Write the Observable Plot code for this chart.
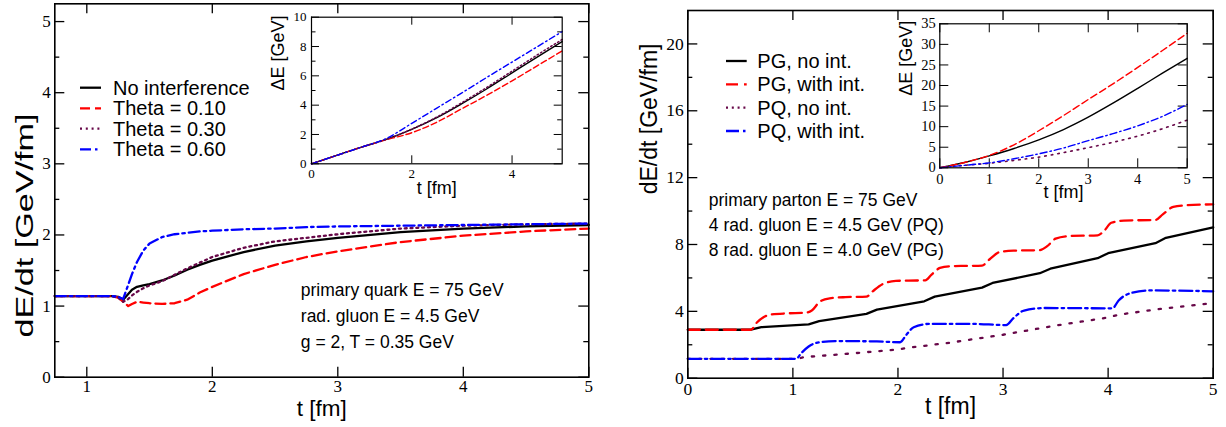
<!DOCTYPE html>
<html><head><meta charset="utf-8">
<script src="https://cdn.jsdelivr.net/npm/d3@7"></script>
<script src="https://cdn.jsdelivr.net/npm/@observablehq/plot@0.6"></script>
<style>
body{margin:0;background:#fff;}
#wrap{position:relative;width:1226px;height:427px;overflow:hidden;background:#fff;}
#wrap > svg, #wrap > figure{position:absolute;margin:0;}
</style></head><body><div id="wrap"></div>
<script>
// ---------------- DATA ----------------
// Left main panel: dE/dt vs t (primary quark)
const leftT        = [0.745,1.0,1.2,1.25,1.29,1.33,1.36,1.4,1.45,1.5,1.6,1.7,1.8,1.9,2.0,2.25,2.5,2.75,3.0,3.5,4.0,4.5,5.0];
const leftNoInt    = [1.14,1.14,1.14,1.13,1.09,1.17,1.23,1.27,1.29,1.31,1.36,1.43,1.51,1.58,1.64,1.76,1.85,1.91,1.96,2.04,2.09,2.12,2.14];
const leftTheta010 = [1.14,1.14,1.14,1.12,1.06,1.00,1.03,1.06,1.05,1.04,1.03,1.04,1.09,1.19,1.27,1.45,1.58,1.69,1.77,1.90,1.99,2.05,2.09];
const leftTheta030 = [1.14,1.14,1.14,1.12,1.06,1.10,1.15,1.20,1.25,1.29,1.35,1.44,1.53,1.61,1.69,1.82,1.91,1.96,2.01,2.09,2.13,2.15,2.16];
const leftTheta060 = [1.14,1.14,1.14,1.13,1.10,1.30,1.45,1.62,1.78,1.88,1.97,2.01,2.03,2.05,2.06,2.08,2.09,2.11,2.12,2.13,2.14,2.15,2.16];
const leftLabels   = ["No interference","Theta = 0.10","Theta = 0.30","Theta = 0.60"];

// Left inset: Delta E vs t
const insetT        = [0,0.5,1,1.5,2,2.5,3,3.5,4,4.5,5];
const linsNoInt     = [0,0.57,1.14,1.68,2.35,3.15,4.10,5.12,6.20,7.28,8.34];
const linsTheta010  = [0,0.57,1.14,1.65,2.12,2.84,3.76,4.68,5.66,6.68,7.70];
const linsTheta030  = [0,0.57,1.14,1.67,2.37,3.19,4.17,5.22,6.32,7.42,8.48];
const linsTheta060  = [0,0.57,1.14,1.74,2.76,3.80,4.84,5.90,6.94,7.98,9.02];

// Right main panel: dE/dt vs t (primary parton)
const pgNoT   = [0,0.6,0.7,1.15,1.25,1.7,1.8,2.25,2.35,2.8,2.9,3.35,3.45,3.9,4.0,4.45,4.55,5.0];
const pgNoV   = [2.9,2.9,3.05,3.22,3.42,3.85,4.1,4.6,4.88,5.42,5.7,6.28,6.55,7.18,7.48,8.08,8.4,9.03];
const pgIntT  = [0,0.6,0.66,0.72,0.8,0.95,1.12,1.18,1.26,1.35,1.5,1.7,1.76,1.86,1.98,2.1,2.26,2.32,2.4,2.5,2.65,2.8,2.87,2.97,3.1,3.35,3.42,3.5,3.62,3.9,3.96,4.03,4.15,4.45,4.52,4.62,4.75,5.0];
const pgIntV  = [2.9,2.9,3.35,3.65,3.82,3.88,3.92,4.05,4.6,4.78,4.85,4.88,5.2,5.65,5.82,5.84,5.85,6.2,6.6,6.7,6.72,6.74,7.1,7.55,7.63,7.66,7.9,8.35,8.5,8.55,8.8,9.3,9.43,9.47,9.8,10.25,10.35,10.4];
const pqNoT   = [0,1.05,1.1,1.5,2.0,2.1,2.5,3.0,3.5,4.0,4.1,4.5,5.0];
const pqNoV   = [1.16,1.16,1.26,1.45,1.72,1.82,2.13,2.6,3.15,3.63,3.8,4.15,4.5];
const pqIntT  = [0,1.03,1.08,1.15,1.25,1.4,1.8,2.02,2.08,2.15,2.3,2.7,3.03,3.1,3.2,3.4,4.04,4.1,4.22,4.4,5.0];
const pqIntV  = [1.16,1.16,1.5,1.9,2.15,2.22,2.2,2.15,2.6,3.05,3.25,3.25,3.18,3.6,4.05,4.2,4.18,4.65,5.1,5.25,5.2];
const rightLabels = ["PG, no int.","PG, with int.","PQ, no int.","PQ, with int."];

// Right inset: Delta E vs t
const rinsPgNo  = [0,1.3,2.9,4.7,6.8,9.3,12.3,15.7,19.3,23.0,26.6];
const rinsPgInt = [0,1.3,3.0,5.6,9.0,12.7,16.6,20.4,24.4,28.5,32.7];
const rinsPqNo  = [0,0.6,1.1,1.8,2.6,3.7,4.9,6.2,7.7,9.5,11.6];
const rinsPqInt = [0,0.6,1.2,2.2,3.4,4.8,6.6,8.3,10.2,12.5,15.4];

// Ticks
const lxMajor = [1,2,3,4,5];
const lyMajor = [0,1,2,3,4,5];
const lyMinor = [0.5,1.5,2.5,3.5,4.5];
const lixMajor = [0,2,4];
const liyMajor = [0,2,4,6,8,10];
const liyMinor = [1,3,5,7,9];
const rxMajor = [0,1,2,3,4,5];
const ryMajor = [0,4,8,12,16,20];
const ryMinor = [2,6,10,14,18];
const riyMajor = [0,5,10,15,20,25,30,35];

const leftNote  = "primary quark E = 75 GeV\nrad. gluon E = 4.5 GeV\ng = 2, T = 0.35 GeV";
const rightNote = "primary parton E = 75 GeV\n4 rad. gluon E = 4.5 GeV (PQ)\n8 rad. gluon E = 4.0 GeV (PG)";

// ---------------- STYLES ----------------
const SANS = "'Liberation Sans', Arial, Helvetica, sans-serif";
const SERIF = "'Liberation Serif', 'Times New Roman', serif";
const MAROON = "#670748";
const fmt = d => String(d);
const leftStyles = [
  {stroke:"black", strokeWidth:2.3},
  {stroke:"#ff0000", strokeWidth:2.3, strokeDasharray:"10,5"},
  {stroke:MAROON, strokeWidth:2.3, strokeDasharray:"2,3.8"},
  {stroke:"#0000ff", strokeWidth:2.3, strokeDasharray:"11,4,2.5,4"}
];
const rightStyles = [
  {stroke:"black", strokeWidth:2.3},
  {stroke:"#ff0000", strokeWidth:2.3, strokeDasharray:"12,6"},
  {stroke:MAROON, strokeWidth:2.3, strokeDasharray:"2.3,9"},
  {stroke:"#0000ff", strokeWidth:2.3, strokeDasharray:"13,4,2.5,4"}
];
const lInsetStyles = [
  {stroke:"black", strokeWidth:1.4},
  {stroke:"#ff0000", strokeWidth:1.4, strokeDasharray:"6,3"},
  {stroke:MAROON, strokeWidth:1.5, strokeDasharray:"1.5,2.5"},
  {stroke:"#0000ff", strokeWidth:1.4, strokeDasharray:"6,3,1.5,3"}
];
const rInsetStyles = [
  {stroke:"black", strokeWidth:1.4},
  {stroke:"#ff0000", strokeWidth:1.4, strokeDasharray:"7,3.5"},
  {stroke:MAROON, strokeWidth:1.6, strokeDasharray:"1.6,5"},
  {stroke:"#0000ff", strokeWidth:1.4, strokeDasharray:"7,3,1.5,3"}
];

const rows = (ts, vs) => ts.map((t, i) => ({t, v: vs[i]}));
function seriesLine(ts, vs, style, curve="linear") {
  return Plot.line(rows(ts, vs), {x:"t", y:"v", curve, strokeLinejoin:"round", ...style});
}
function ticksMarks({xMajor=[], xMinor=[], yMajor=[], yMinor=[], fw, fh, maj, min, sw}) {
  const st = {stroke:"black", strokeWidth:sw};
  const out = [];
  for (const [vals, len] of [[xMajor, maj], [xMinor, min]]) if (vals.length) {
    out.push(Plot.ruleX(vals, {x:d=>d, insetTop: fh - len, ...st}));
    out.push(Plot.ruleX(vals, {x:d=>d, insetBottom: fh - len, ...st}));
  }
  for (const [vals, len] of [[yMajor, maj], [yMinor, min]]) if (vals.length) {
    out.push(Plot.ruleY(vals, {y:d=>d, insetRight: fw - len, ...st}));
    out.push(Plot.ruleY(vals, {y:d=>d, insetLeft: fw - len, ...st}));
  }
  return out;
}
function axes(xt, yt, size, padX, padY) {
  return [
    Plot.axisX(xt, {tickSize: 0, tickPadding: padX, tickFormat: fmt, fontSize: size, fontFamily: SERIF, fill: "black", label: null}),
    Plot.axisY(yt, {tickSize: 0, tickPadding: padY, tickFormat: fmt, fontSize: size, fontFamily: SERIF, fill: "black", label: null})
  ];
}

const wrap = document.getElementById("wrap");
function place(el, left, top) { el.style.left = left + "px"; el.style.top = top + "px"; wrap.appendChild(el); return el; }

// ---------------- LEFT MAIN ----------------
{
  const W = 600, H = 427, ml = 54.3, mr = 11.7, mt = 3.3, mb = 50.3;
  const fw = W - ml - mr, fh = H - mt - mb;
  const p = Plot.plot({
    width: W, height: H, marginLeft: ml, marginRight: mr, marginTop: mt, marginBottom: mb,
    x: {domain: [0.745, 5]}, y: {domain: [0, 5.25]},
    style: {background: "transparent", overflow: "visible", fontFamily: SERIF},
    marks: [
      ...ticksMarks({xMajor: lxMajor, yMajor: lyMajor, yMinor: lyMinor, fw, fh, maj: 10, min: 5, sw: 1.3}),
      ...axes(lxMajor, lyMajor, 17, 3, 4),
      seriesLine(leftT, leftNoInt, leftStyles[0]),
      seriesLine(leftT, leftTheta010, leftStyles[1]),
      seriesLine(leftT, leftTheta030, leftStyles[2]),
      seriesLine(leftT, leftTheta060, leftStyles[3]),
      Plot.frame({stroke: "black", strokeWidth: 1.6}),
      Plot.text([leftNote], {frameAnchor: "top-left", dx: 246, dy: 273.4, lineAnchor: "top", textAnchor: "start", lineHeight: 1.5, fontSize: 17.5, fontFamily: SANS, fill: "black"}),
      Plot.text(["t [fm]"], {frameAnchor: "bottom", dy: 38.3, fontSize: 22.5, fontFamily: SANS, fill: "black"}),
      Plot.text(["dE/dt [GeV/fm]"], {frameAnchor: "left", rotate: -90, textAnchor: "start", dx: -29, dy: 147, fontSize: 23, fontFamily: SANS, fill: "black"})
    ]
  });
  d3.select(p).selectAll("text").filter(function() { return this.textContent === "dE/dt [GeV/fm]"; })
    .attr("textLength", 224).attr("lengthAdjust", "spacingAndGlyphs");
  place(p, 0, 0);
}

// ---------------- RIGHT MAIN ----------------
{
  const W = 626, H = 427, ml = 87.3, mr = 13.3, mt = 10, mb = 49.3;
  const fw = W - ml - mr, fh = H - mt - mb;
  const p = Plot.plot({
    width: W, height: H, marginLeft: ml, marginRight: mr, marginTop: mt, marginBottom: mb,
    x: {domain: [0, 5]}, y: {domain: [0, 22]},
    style: {background: "transparent", overflow: "visible", fontFamily: SERIF},
    marks: [
      ...ticksMarks({xMajor: rxMajor, yMajor: ryMajor, yMinor: ryMinor, fw, fh, maj: 10, min: 5, sw: 1.3}),
      ...axes(rxMajor, ryMajor, 17.5, 4, 4),
      seriesLine(pgNoT, pgNoV, rightStyles[0]),
      seriesLine(pgIntT, pgIntV, rightStyles[1], "monotone-x"),
      seriesLine(pqNoT, pqNoV, rightStyles[2]),
      seriesLine(pqIntT, pqIntV, rightStyles[3], "monotone-x"),
      Plot.frame({stroke: "black", strokeWidth: 1.6}),
      Plot.text([rightNote], {frameAnchor: "top-left", dx: 21, dy: 177.5, lineAnchor: "top", textAnchor: "start", lineHeight: 1.43, fontSize: 17.5, fontFamily: SANS, fill: "black"}),
      Plot.text(["t [fm]"], {frameAnchor: "bottom", dy: 35.5, fontSize: 23, fontFamily: SANS, fill: "black"}),
      Plot.text(["dE/dt [GeV/fm]"], {frameAnchor: "left", rotate: -90, dx: -38.6, dy: 0, fontSize: 23, fontFamily: SANS, fill: "black"})
    ]
  });
  place(p, 600, 0);
}

// ---------------- LEFT INSET ----------------
{
  const W = 320, H = 210, ml = 56, mr = 13.3, mt = 16.7, mb = 46.7;
  const fw = W - ml - mr, fh = H - mt - mb;
  const p = Plot.plot({
    width: W, height: H, marginLeft: ml, marginRight: mr, marginTop: mt, marginBottom: mb,
    x: {domain: [0, 5]}, y: {domain: [0, 10]},
    style: {background: "transparent", overflow: "visible", fontFamily: SERIF},
    marks: [
      Plot.frame({fill: "white"}),
      ...ticksMarks({xMajor: lixMajor, yMajor: liyMajor, yMinor: liyMinor, fw, fh, maj: 8, min: 4.5, sw: 1}),
      ...axes(lixMajor, liyMajor, 13, 5, 5),
      seriesLine(insetT, linsNoInt, lInsetStyles[0], "monotone-x"),
      seriesLine(insetT, linsTheta010, lInsetStyles[1], "monotone-x"),
      seriesLine(insetT, linsTheta030, lInsetStyles[2], "monotone-x"),
      seriesLine(insetT, linsTheta060, lInsetStyles[3], "monotone-x"),
      Plot.frame({stroke: "black", strokeWidth: 1.2}),
      Plot.text(["t [fm]"], {frameAnchor: "bottom", dy: 29.7, fontSize: 18, fontFamily: SANS, fill: "black"}),
      Plot.text(["ΔE [GeV]"], {frameAnchor: "left", rotate: -90, dx: -33.5, fontSize: 18, fontFamily: SANS, fill: "black"})
    ]
  });
  place(p, 255, 0);
}

// ---------------- RIGHT INSET ----------------
{
  const W = 330, H = 215, ml = 59.3, mr = 23.3, mt = 23.3, mb = 47.7;
  const fw = W - ml - mr, fh = H - mt - mb;
  const p = Plot.plot({
    width: W, height: H, marginLeft: ml, marginRight: mr, marginTop: mt, marginBottom: mb,
    x: {domain: [0, 5]}, y: {domain: [0, 35]},
    style: {background: "transparent", overflow: "visible", fontFamily: SERIF},
    marks: [
      Plot.frame({fill: "white"}),
      ...ticksMarks({xMajor: rxMajor, yMajor: riyMajor, fw, fh, maj: 9, min: 4.5, sw: 1}),
      ...axes(rxMajor, riyMajor, 14.5, 6, 4),
      seriesLine(insetT, rinsPgNo, rInsetStyles[0], "monotone-x"),
      seriesLine(insetT, rinsPgInt, rInsetStyles[1], "monotone-x"),
      seriesLine(insetT, rinsPqNo, rInsetStyles[2], "monotone-x"),
      seriesLine(insetT, rinsPqInt, rInsetStyles[3], "monotone-x"),
      Plot.frame({stroke: "black", strokeWidth: 1.2}),
      Plot.text(["t [fm]"], {frameAnchor: "bottom", dy: 29.7, fontSize: 18, fontFamily: SANS, fill: "black"}),
      Plot.text(["ΔE [GeV]"], {frameAnchor: "left", rotate: -90, dx: -33.8, fontSize: 18, fontFamily: SANS, fill: "black"})
    ]
  });
  place(p, 880, 0);
}

// ---------------- LEGENDS ----------------
function legend(left, top, labels, styles, rowYs, x1, x2, tx) {
  const svg = d3.create("svg").attr("width", 260).attr("height", 140)
    .style("position", "absolute").style("overflow", "visible");
  labels.forEach((lab, i) => {
    const s = styles[i];
    svg.append("line").attr("x1", x1).attr("x2", x2).attr("y1", rowYs[i]).attr("y2", rowYs[i])
      .attr("stroke", s.stroke).attr("stroke-width", s.strokeWidth)
      .attr("stroke-dasharray", s.strokeDasharray || null);
    svg.append("text").attr("x", tx).attr("y", rowYs[i]).attr("dy", "0.35em")
      .attr("font-family", SANS).attr("font-size", 20).attr("fill", "black").text(lab);
  });
  place(svg.node(), left, top);
}
legend(0, 0, leftLabels, leftStyles, [87.7, 108.3, 128.6, 149.3], 80, 101, 113);
legend(600, 0, rightLabels, [rightStyles[0], rightStyles[1], leftStyles[2], rightStyles[3]], [61, 84.3, 107.7, 131], 126, 146.7, 157.3);
</script></body></html>
